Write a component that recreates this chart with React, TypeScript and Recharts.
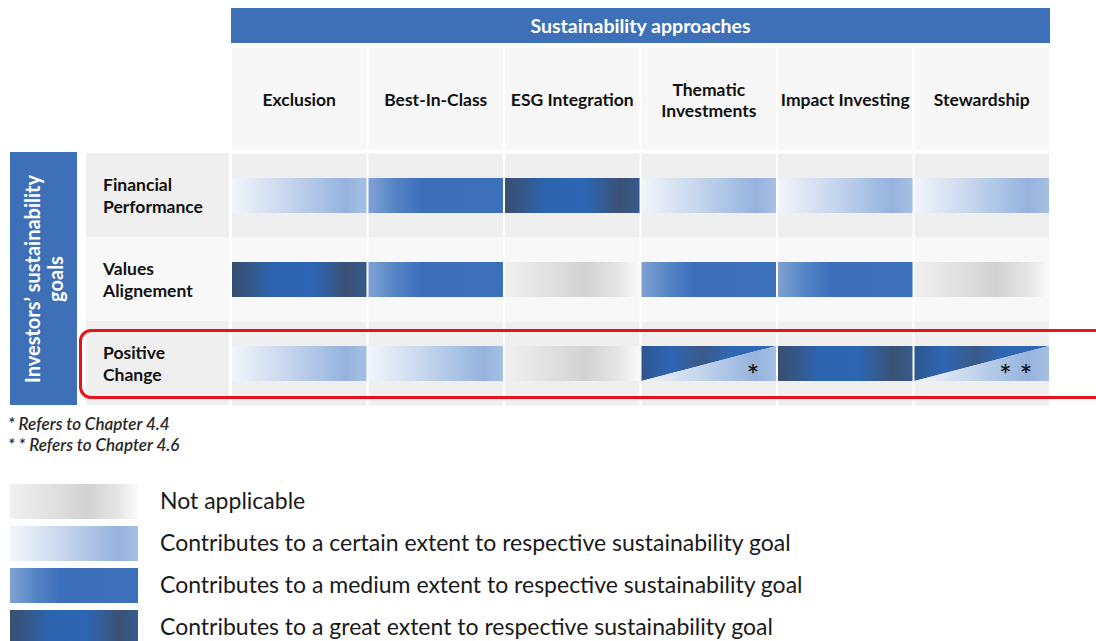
import React from 'react';
import { BarChart, Bar, XAxis, YAxis } from 'recharts';

// ── Données ───────────────────────────────────────────────
const APPROACHES = ['Exclusion', 'Best-In-Class', 'ESG Integration', 'Thematic Investments', 'Impact Investing', 'Stewardship'];
const GOALS = ['Financial Performance', 'Values Alignement', 'Positive Change'];

// niveau de contribution par approche, une liste par objectif
const FINANCIAL_LEVELS = ['certain', 'medium', 'great', 'certain', 'certain', 'certain'];
const VALUES_LEVELS = ['great', 'medium', 'na', 'medium', 'medium', 'na'];
const POSITIVE_LEVELS = ['certain', 'certain', 'na', 'split', 'great', 'split'];
const POSITIVE_NOTES = ['', '', '', '*', '', '* *'];

const LEGEND_ITEMS = [
  { level: 'na', label: 'Not applicable' },
  { level: 'certain', label: 'Contributes to a certain extent to respective sustainability goal' },
  { level: 'medium', label: 'Contributes to a medium extent to respective sustainability goal' },
  { level: 'great', label: 'Contributes to a great extent to respective sustainability goal' },
];
const FOOTNOTES = ['* Refers to Chapter 4.4', '* * Refers to Chapter 4.6'];

const LEVELS_BY_GOAL = [FINANCIAL_LEVELS, VALUES_LEVELS, POSITIVE_LEVELS];
const NOTES_BY_GOAL = [[], [], POSITIVE_NOTES];

const data = GOALS.map((goal, r) => {
  const row: any = { goal, rowIndex: r };
  APPROACHES.forEach((_, i) => {
    row[`s${i}`] = 1;
    row[`level${i}`] = LEVELS_BY_GOAL[r][i];
    row[`note${i}`] = NOTES_BY_GOAL[r][i] || '';
  });
  return row;
});

// ── Mise en page ──────────────────────────────────────────
const W = 1096;
const H = 641;
const PLOT_LEFT = 231;
const PLOT_RIGHT = 1050;
const PLOT_TOP = 153;
const PLOT_BOTTOM = 405;
const COL_W = (PLOT_RIGHT - PLOT_LEFT) / APPROACHES.length;
const ROW_H = (PLOT_BOTTOM - PLOT_TOP) / GOALS.length;

const BLUE = '#3d70b7';
const ROW_BG = ['#efefef', '#f8f8f8', '#efefef'];
const FONT = 'Lato, "Open Sans", sans-serif';

// dégradés horizontaux (repris pour la légende en CSS)
const GRADIENTS: Record<string, [number, string][]> = {
  na: [[0, '#f0f0f0'], [0.3, '#e2e2e2'], [0.6, '#d2d2d2'], [0.85, '#e6e6e6'], [1, '#fbfbfb']],
  certain: [[0, '#f1f5fb'], [0.35, '#cddbef'], [0.7, '#a5bfe3'], [0.85, '#97b3dc'], [1, '#a6c0e4']],
  medium: [[0, '#7fa2d4'], [0.2, '#5584c5'], [0.4, '#3b6fba'], [1, '#3b70ba']],
  great: [[0, '#384f72'], [0.12, '#355685'], [0.3, '#2d64b0'], [0.6, '#2d66b4'], [0.85, '#3b5275'], [1, '#365a8c']],
  splitTop: [[0, '#2d5690'], [0.22, '#2e66b3'], [0.45, '#3a5a88'], [0.65, '#2f66b2'], [1, '#2f68b6']],
};

const cssGradient = (stops: [number, string][]) =>
  `linear-gradient(to right, ${stops.map(([o, c]) => `${c} ${o * 100}%`).join(', ')})`;

const COLUMN_LINES: Record<string, string[]> = {
  'Thematic Investments': ['Thematic', 'Investments'],
};
const GOAL_LINES: Record<string, string[]> = {
  'Financial Performance': ['Financial', 'Performance'],
  'Values Alignement': ['Values', 'Alignement'],
  'Positive Change': ['Positive', 'Change'],
};

// ── Rendu des cellules (fond de ligne + pavé) ─────────────
const renderCell = (props: any, i: number) => {
  const { x, y, width, height, payload } = props;
  const level = payload[`level${i}`];
  const note = payload[`note${i}`];
  const x0 = x + 1;
  const w = width - 2;
  const cy = y + height / 2;
  const bg = <rect x={x0} y={cy - ROW_H / 2} width={w} height={ROW_H} fill={ROW_BG[payload.rowIndex % 3]} />;
  if (level === 'split') {
    return (
      <g>
        {bg}
        <polygon points={`${x0},${y} ${x0 + w},${y} ${x0},${y + height}`} fill="url(#grad-splitTop)" />
        <polygon points={`${x0},${y + height} ${x0 + w},${y} ${x0 + w},${y + height}`} fill="url(#grad-certain)" />
        {note && (
          <text x={x0 + w - 16} y={y + height - 3} textAnchor="end" fontSize={19} fontWeight={700}
            fill="#1a1a1a" fontFamily='"DejaVu Sans", sans-serif' letterSpacing={2}>
            {note}
          </text>
        )}
      </g>
    );
  }
  return (
    <g>
      {bg}
      <rect x={x0} y={y} width={w} height={height} fill={`url(#grad-${level})`} />
    </g>
  );
};

const ColumnTick = ({ x, payload }: any) => {
  const name = APPROACHES[Math.floor(payload.value)];
  const lines = COLUMN_LINES[name] || [name];
  const cy = 100;
  return (
    <g>
      <rect x={x - COL_W / 2 + 1} y={48} width={COL_W - 2} height={102} fill="#f7f7f7" />
      <text x={x} textAnchor="middle" fontFamily={FONT} fontWeight={700} fontSize={17.5} fill="#111">
        {lines.map((l, k) => (
          <tspan key={k} x={x} y={cy + 6 + (k - (lines.length - 1) / 2) * 21}>{l}</tspan>
        ))}
      </text>
    </g>
  );
};

const GoalTick = ({ y, payload, index }: any) => {
  const lines = GOAL_LINES[payload.value] || [payload.value];
  return (
    <g>
      <rect x={PLOT_LEFT - 145} y={y - ROW_H / 2} width={143} height={ROW_H} fill={ROW_BG[index % 3]} />
      <text fontFamily={FONT} fontWeight={700} fontSize={17.5} fill="#111">
        {lines.map((l, k) => (
          <tspan key={k} x={103} y={y + 7 + (k - 0.5) * 22}>{l}</tspan>
        ))}
      </text>
    </g>
  );
};

const HeaderBand = ({ viewBox }: any) => {
  const { x, y, width } = viewBox;
  return (
    <g>
      <rect x={x} y={y} width={width} height={35} fill={BLUE} />
      <text x={x + width / 2} y={y + 25} textAnchor="middle" fill="#fff" fontFamily={FONT} fontWeight={700} fontSize={19.5}>
        Sustainability approaches
      </text>
    </g>
  );
};

const GoalsBand = ({ viewBox }: any) => {
  const { x, y, height } = viewBox;
  const bx = x - 76;
  const cx = bx + 33.5;
  const cy = y + height / 2;
  return (
    <g>
      <rect x={bx} y={y - 1} width={67} height={height + 1} fill={BLUE} />
      <text transform={`translate(${cx},${cy}) rotate(-90)`} textAnchor="middle" fill="#fff"
        fontFamily={FONT} fontWeight={700} fontSize={20}>
        <tspan x={0} y={-4}>Investors’ sustainability</tspan>
        <tspan x={0} y={19}>goals</tspan>
      </text>
    </g>
  );
};

export default function App() {
  return (
    <div style={{ position: 'absolute', left: 0, top: 0, width: W, height: H, overflow: 'hidden', background: '#fff', fontFamily: FONT }}>
      <BarChart
        width={W}
        height={H}
        data={data}
        layout="vertical"
        margin={{ top: 8, right: W - PLOT_RIGHT, bottom: H - PLOT_BOTTOM, left: PLOT_LEFT - 145 }}
        barSize={35}
      >
        <defs>
          {Object.entries(GRADIENTS).map(([key, stops]) => (
            <linearGradient key={key} id={`grad-${key}`} x1="0" y1="0" x2="1" y2="0">
              {stops.map(([o, c], k) => <stop key={k} offset={o} stopColor={c} />)}
            </linearGradient>
          ))}
        </defs>
        <XAxis
          type="number"
          orientation="top"
          domain={[0, APPROACHES.length]}
          ticks={APPROACHES.map((_, i) => i + 0.5)}
          interval={0}
          height={PLOT_TOP - 8}
          axisLine={false}
          tickLine={false}
          tick={<ColumnTick />}
          label={{ content: (p: any) => <HeaderBand {...p} /> }}
        />
        <YAxis
          type="category"
          dataKey="goal"
          width={145}
          axisLine={false}
          tickLine={false}
          tick={<GoalTick />}
          label={{ content: (p: any) => <GoalsBand {...p} /> }}
        />
        {APPROACHES.map((a, i) => (
          <Bar key={a} dataKey={`s${i}`} stackId="m" isAnimationActive={false}
            shape={(p: any) => renderCell(p, i)} />
        ))}
      </BarChart>

      {/* cadre rouge autour de "Positive Change" */}
      <div style={{ position: 'absolute', left: 79, top: 329, width: 1040, height: 70, border: '3px solid #e8121a', borderRadius: 12, boxSizing: 'border-box' }} />

      {/* renvois */}
      <div style={{ position: 'absolute', left: 8, top: 413, fontStyle: 'italic', fontWeight: 600, fontSize: 17, lineHeight: '21px', color: '#2a2a2a' }}>
        {FOOTNOTES.map(f => <div key={f}>{f}</div>)}
      </div>

      {/* légende */}
      {LEGEND_ITEMS.map((item, k) => (
        <div key={item.level} style={{ position: 'absolute', left: 10, top: 484 + k * 42, height: 35, display: 'flex', alignItems: 'center' }}>
          <div style={{ width: 128, height: 35, background: cssGradient(GRADIENTS[item.level]) }} />
          <div style={{ marginLeft: 22, marginTop: -3, fontSize: 23, color: '#1a1a1a', whiteSpace: 'nowrap' }}>{item.label}</div>
        </div>
      ))}
    </div>
  );
}
